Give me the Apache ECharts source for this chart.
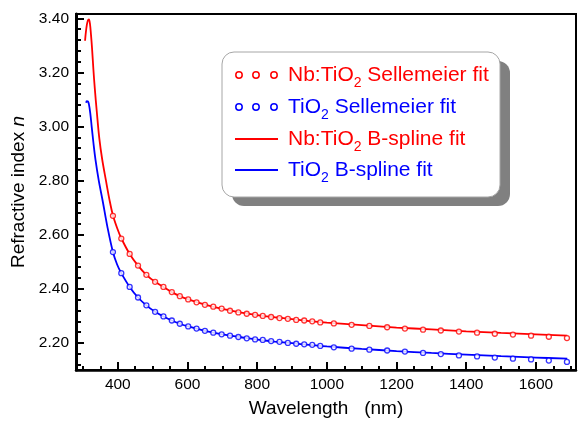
<!DOCTYPE html>
<html>
<head>
<meta charset="utf-8">
<script src="https://cdn.jsdelivr.net/npm/echarts@6/dist/echarts.min.js"></script>
<style>
  html, body { margin: 0; padding: 0; background: #ffffff; }
  #chart { width: 579px; height: 427px; }
</style>
</head>
<body>
<div id="chart"></div>
<script>
// Sellmeier-fit sample wavelengths (nm) and refractive indices
const sellWavelength = [386, 410, 434, 458, 482, 507, 531, 555, 578, 602, 626, 650, 674, 698, 722, 746, 770, 794,
  816, 840, 864, 888, 912, 935, 958, 981, 1020, 1071, 1122, 1173, 1224, 1276, 1327, 1379, 1431, 1482, 1534, 1586, 1637, 1689];
const nbSellN = [2.670, 2.586, 2.529, 2.486, 2.452, 2.426, 2.407, 2.388, 2.373, 2.361, 2.350, 2.341, 2.334, 2.327, 2.319, 2.313, 2.308, 2.304,
  2.300, 2.296, 2.292, 2.289, 2.285, 2.283, 2.280, 2.276, 2.272, 2.267, 2.263, 2.258, 2.253, 2.249, 2.246, 2.242, 2.238, 2.234, 2.231, 2.227, 2.223, 2.218];
const tiSellN = [2.536, 2.458, 2.407, 2.368, 2.339, 2.315, 2.298, 2.283, 2.271, 2.261, 2.253, 2.245, 2.238, 2.232, 2.227, 2.222, 2.217, 2.213,
  2.211, 2.207, 2.204, 2.200, 2.197, 2.195, 2.193, 2.189, 2.184, 2.179, 2.175, 2.172, 2.168, 2.163, 2.159, 2.154, 2.150, 2.146, 2.142, 2.139, 2.135, 2.130];

// B-spline curves
const nbSplineWavelength = [306, 308, 311, 314, 317, 320, 323, 326, 330, 334, 340, 347, 355, 366, 376, 386, 398, 410, 434, 458, 482, 507, 531, 555, 578, 602,
  650, 700, 750, 800, 850, 900, 950, 1000, 1100, 1200, 1300, 1400, 1500, 1600, 1690];
const nbSplineN = [3.317, 3.345, 3.375, 3.392, 3.396, 3.380, 3.340, 3.290, 3.210, 3.140, 3.050, 2.955, 2.880, 2.800, 2.730, 2.672, 2.625, 2.587, 2.529, 2.486, 2.452, 2.426, 2.407, 2.388, 2.373, 2.361,
  2.342, 2.326, 2.313, 2.303, 2.295, 2.288, 2.281, 2.275, 2.266, 2.257, 2.250, 2.243, 2.237, 2.232, 2.227];
const tiSplineWavelength = [309, 311, 314, 317, 321, 325, 330, 336, 345, 357, 370, 386, 398, 410, 434, 458, 482, 507, 531, 555, 578, 602,
  650, 700, 750, 800, 850, 900, 950, 1000, 1100, 1200, 1300, 1400, 1500, 1600, 1690];
const tiSplineN = [3.088, 3.094, 3.093, 3.083, 3.049, 3.000, 2.940, 2.877, 2.803, 2.722, 2.630, 2.536, 2.490, 2.458, 2.407, 2.368, 2.339, 2.315, 2.298, 2.283, 2.271, 2.261,
  2.245, 2.232, 2.222, 2.212, 2.205, 2.199, 2.193, 2.187, 2.178, 2.170, 2.163, 2.157, 2.151, 2.146, 2.142];

// Axis tick labels
const xTickLabels = [400, 600, 800, 1000, 1200, 1400, 1600];
const yTickLabels = [2.2, 2.4, 2.6, 2.8, 3.0, 3.2, 3.4];

const X_MIN = 280, X_MAX = 1715;
const Y_MIN = 2.1, Y_MAX = 3.416;

// minor tick positions between the labelled ones
const xMinor = [];
for (let v = 300; v <= 1700; v += 50) if (v % 200 !== 0) xMinor.push(v);
const yMinor = [];
for (let k = 53; k <= 85; k++) if (k % 5 !== 0) yMinor.push(Math.round(k * 4) / 100);

const RED = '#ff0000', BLUE = '#0000ff';
const FONT = 'Liberation Sans, Arial, sans-serif';

const pairs = (xs, ys) => xs.map((x, i) => [x, ys[i]]);

const chart = echarts.init(document.getElementById('chart'), null, { renderer: 'canvas' });

const axisText = { color: '#000', fontFamily: FONT, fontSize: 15.5 };

const option = {
  animation: false,
  backgroundColor: '#ffffff',
  grid: {
    left: 76, right: 3, top: 14, bottom: 57,
    show: true, borderColor: '#000', borderWidth: 2, backgroundColor: 'transparent'
  },
  xAxis: [
    {
      type: 'value', min: X_MIN, max: X_MAX, position: 'bottom',
      name: 'Wavelength   (nm)', nameLocation: 'middle', nameGap: 29,
      nameTextStyle: { color: '#000', fontFamily: FONT, fontSize: 19 },
      axisLine: { show: true, lineStyle: { color: '#000', width: 2.5 } },
      axisTick: { show: true, inside: true, length: 8, customValues: xTickLabels, lineStyle: { color: '#000', width: 2 } },
      axisLabel: Object.assign({ margin: 7, customValues: xTickLabels, formatter: v => String(v) }, axisText),
      splitLine: { show: false }
    },
    {
      type: 'value', min: X_MIN, max: X_MAX, position: 'bottom',
      axisLine: { show: false },
      axisTick: { show: true, inside: true, length: 4, customValues: xMinor, lineStyle: { color: '#000', width: 2 } },
      axisLabel: { show: false },
      splitLine: { show: false }
    }
  ],
  yAxis: [
    {
      type: 'value', min: Y_MIN, max: Y_MAX, position: 'left',
      name: '{t|Refractive index }{i|n}', nameLocation: 'middle', nameGap: 45, nameRotate: 90,
      nameTextStyle: {
        color: '#000', fontFamily: FONT, fontSize: 19,
        rich: {
          t: { color: '#000', fontFamily: FONT, fontSize: 19 },
          i: { color: '#000', fontFamily: FONT, fontSize: 19, fontStyle: 'italic' }
        }
      },
      axisLine: { show: true, lineStyle: { color: '#000', width: 3 } },
      axisTick: { show: true, inside: true, length: 8, customValues: yTickLabels, lineStyle: { color: '#000', width: 2 } },
      axisLabel: Object.assign({ margin: 7, customValues: yTickLabels, formatter: v => v.toFixed(2) }, axisText),
      splitLine: { show: false }
    },
    {
      type: 'value', min: Y_MIN, max: Y_MAX, position: 'left',
      axisLine: { show: false },
      axisTick: { show: true, inside: true, length: 5, customValues: yMinor, lineStyle: { color: '#000', width: 2 } },
      axisLabel: { show: false },
      splitLine: { show: false }
    }
  ],
  series: [
    {
      name: 'Nb:TiO2 B-spline fit', type: 'line', xAxisIndex: 0, yAxisIndex: 0,
      data: pairs(nbSplineWavelength, nbSplineN), showSymbol: false, smooth: 0.35,
      lineStyle: { color: RED, width: 1.8 }, z: 3
    },
    {
      name: 'TiO2 B-spline fit', type: 'line', xAxisIndex: 0, yAxisIndex: 0,
      data: pairs(tiSplineWavelength, tiSplineN), showSymbol: false, smooth: 0.35,
      lineStyle: { color: BLUE, width: 1.8 }, z: 3
    },
    {
      name: 'Nb:TiO2 Sellemeier fit', type: 'scatter', xAxisIndex: 0, yAxisIndex: 0,
      data: pairs(sellWavelength, nbSellN), symbol: 'circle', symbolSize: 5,
      itemStyle: { color: '#ffffff', borderColor: RED, borderWidth: 1.3 }, z: 4
    },
    {
      name: 'TiO2 Sellemeier fit', type: 'scatter', xAxisIndex: 0, yAxisIndex: 0,
      data: pairs(sellWavelength, tiSellN), symbol: 'circle', symbolSize: 5,
      itemStyle: { color: '#ffffff', borderColor: BLUE, borderWidth: 1.3 }, z: 4
    }
  ]
};

// Legend box with drop shadow, drawn as graphic elements
const legendRows = [
  { kind: 'dots', color: RED, text: '{a|Nb:TiO}{s|2}{a| Sellemeier fit}' },
  { kind: 'dots', color: BLUE, text: '{a|TiO}{s|2}{a| Sellemeier fit}' },
  { kind: 'line', color: RED, text: '{a|Nb:TiO}{s|2}{a| B-spline fit}' },
  { kind: 'line', color: BLUE, text: '{a|TiO}{s|2}{a| B-spline fit}' }
];
const box = { x: 222, y: 52, w: 278, h: 145, r: 12 };
const rowY = [75, 107, 139, 170];
const graphics = [
  { type: 'rect', shape: { x: box.x + 10, y: box.y + 9, width: box.w, height: box.h, r: box.r },
    style: { fill: '#808080' }, z: 10 },
  { type: 'rect', shape: { x: box.x, y: box.y, width: box.w, height: box.h, r: box.r },
    style: { fill: '#ffffff', stroke: '#a6a6a6', lineWidth: 1 }, z: 11 }
];
legendRows.forEach((row, i) => {
  const y = rowY[i];
  if (row.kind === 'dots') {
    [239, 256, 274].forEach(cx => graphics.push({
      type: 'circle', shape: { cx: cx, cy: y, r: 3.2 },
      style: { fill: '#ffffff', stroke: row.color, lineWidth: 1.5 }, z: 12
    }));
  } else {
    graphics.push({
      type: 'line', shape: { x1: 235, y1: y, x2: 278, y2: y },
      style: { stroke: row.color, lineWidth: 1.8 }, z: 12
    });
  }
  graphics.push({
    type: 'text', x: 288, y: y, z: 12,
    style: {
      text: row.text, verticalAlign: 'middle', align: 'left',
      rich: {
        a: { fill: row.color, fontFamily: FONT, fontSize: 21 },
        s: { fill: row.color, fontFamily: FONT, fontSize: 14, padding: [16, 0, 0, 0] }
      }
    }
  });
});
option.graphic = graphics;

chart.setOption(option);
</script>
</body>
</html>
